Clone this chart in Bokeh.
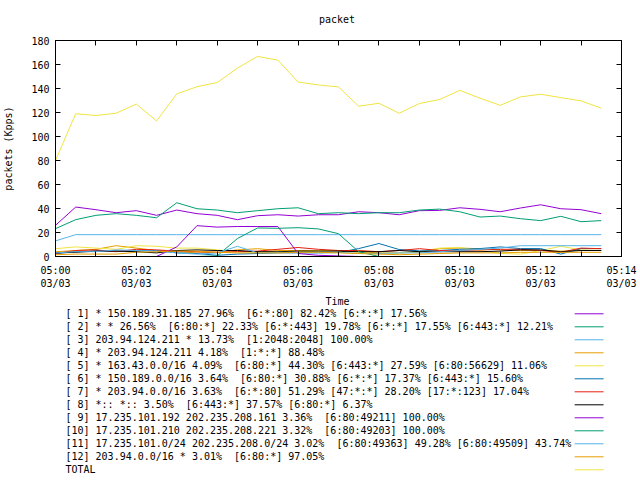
from bokeh.plotting import figure
from bokeh.models import Range1d, FixedTicker, LinearAxis, ColumnDataSource
from bokeh.layouts import column
from bokeh.embed import file_html
from bokeh.resources import INLINE
from bokeh.core.properties import value

# ---------------- data ----------------
times = ["05:00:00", "05:00:30", "05:01:00", "05:01:30", "05:02:00", "05:02:30",
         "05:03:00", "05:03:30", "05:04:00", "05:04:30", "05:05:00", "05:05:30",
         "05:06:00", "05:06:30", "05:07:00", "05:07:30", "05:08:00", "05:08:30",
         "05:09:00", "05:09:30", "05:10:00", "05:10:30", "05:11:00", "05:11:30",
         "05:12:00", "05:12:30", "05:13:00", "05:13:30"]

s1 = [26, 41.2, 39, 36.5, 38.2, 34.3, 38.7, 35.7, 34.3, 30.7, 34, 34.8, 33.7, 34.8,
      34.8, 37.3, 36.5, 34.8, 38.2, 38.4, 40.6, 39.3, 37.3, 40.4, 43.1, 39.8, 39, 35.7]
s2 = [23.2, 30.7, 34.3, 35.7, 34.3, 32.3, 44.8, 39.8, 38.7, 36.5, 38.2, 39.8, 40.6, 35.7,
      36.5, 35.7, 36.5, 36.5, 38.7, 39.5, 37.3, 32.9, 33.7, 31.5, 29.9, 33.5, 29, 29.9]
s3 = [13, 18.2, 18.2, 18.2, 18.2, 18.2, 18.2, 18.2, 18.2, 18.2, 18.2, 18.2, 18.2, 18.2,
      18.2, 18.2, 18.2, 18.2, 18.2, 18.2, 18.2, 18.2, 18.2, 18.2, 18.2, 18.2, 18.2, 18.2]
s4 = [4, 5, 6, 9, 7, 5, 4, 3, 3.5, 5.5, 6.5, 5, 5, 5,
      5, 4, 3, 3, 3.5, 6.5, 7, 6.5, 5.5, 5, 5, 4.5, 5, 5]
s5 = [6.5, 8, 7, 6, 9, 8.5, 7, 7, 5.5, 4, 4, 4, 4, 4.5,
      4.5, 3.5, 2.5, 3, 4, 7, 7.5, 5, 2.5, 2, 5, 8.5, 5.5, 5]
s6 = [2.5, 4, 4.5, 4.5, 5, 5, 3, 2.5, 1, 2, 2.5, 3, 3, 3,
      3.3, 6.6, 10.8, 5.8, 4.7, 5, 6, 6.6, 8, 6.6, 6.6, 2, 6.6, 6.6]
s7 = [2.5, 5, 5.5, 4, 6, 5.5, 4.5, 4, 3.5, 4, 4.5, 6, 7.5, 6,
      5, 5, 4, 5, 6.5, 5, 5, 5.5, 6, 6, 5, 3.5, 7, 6.5]
s8 = [3, 3.5, 4.5, 4.5, 4, 3, 5, 5.5, 5, 5, 4, 4, 4.5, 4.5,
      4.5, 4, 4, 5, 4, 4, 4, 4, 4.5, 5.5, 5.5, 4, 5, 5]
s9 = [0, 0, 0, 0, 0, 0, 8, 25.7, 24.5, 25, 25, 25, 2.5, 1,
      0.5, 0, 0, 0, 0, 0, 0, 0, 0, 0, 0, 0, 0, 0]
s10 = [0, 0, 0, 0, 0, 0, 0, 0, 0.5, 15, 23.8, 23.5, 24, 23,
       19, 4, 0, 0, 0, 0, 0, 0, 0, 0, 0, 0, 0, 0]
s11 = [3, 4, 4, 5.5, 5, 4.5, 3, 2, 3, 8.5, 3, 3.5, 3.5, 3.5,
       3.5, 2.5, 2.5, 3, 3, 4, 5, 6, 7, 9, 9, 9, 9, 9]
s12 = [1.5, 2, 2, 2, 3.5, 4, 4.5, 4.5, 3.5, 3, 3, 3, 3.5, 3.5,
       3, 2.5, 2, 1.5, 2, 2.5, 3, 3, 3, 3.5, 3.5, 3.5, 3.5, 3.5]
total = [80, 119, 117.5, 119.4, 127, 113, 135.5, 141.5, 145, 157, 166.7, 163.7, 145.4, 143,
         141.3, 125.2, 127.7, 119.4, 127.5, 130.8, 138.5, 131.9, 126, 133, 135.2, 132.4, 129.7, 123.6]

series = [s1, s2, s3, s4, s5, s6, s7, s8, s9, s10, s11, s12, total]

NB = "\u00a0"  # keeps gnuplot's double spaces visible in SVG text
legend_labels = [
    "[ 1] * 150.189.31.185 27.96%" + NB + " [6:*:80] 82.42% [6:*:*] 17.56%",
    "[ 2] * * 26.56%" + NB + " [6:80:*] 22.33% [6:*:443] 19.78% [6:*:*] 17.55% [6:443:*] 12.21%",
    "[ 3] 203.94.124.211 * 13.73%" + NB + " [1:2048:2048] 100.00%",
    "[ 4] * 203.94.124.211 4.18%" + NB + " [1:*:*] 88.48%",
    "[ 5] * 163.43.0.0/16 4.09%" + NB + " [6:80:*] 44.30% [6:443:*] 27.59% [6:80:56629] 11.06%",
    "[ 6] * 150.189.0.0/16 3.64%" + NB + " [6:80:*] 30.88% [6:*:*] 17.37% [6:443:*] 15.60%",
    "[ 7] * 203.94.0.0/16 3.63%" + NB + " [6:*:80] 51.29% [47:*:*] 28.20% [17:*:123] 17.04%",
    "[ 8] *:: *:: 3.50%" + NB + " [6:443:*] 37.57% [6:80:*] 6.37%",
    "[ 9] 17.235.101.192 202.235.208.161 3.36%" + NB + " [6:80:49211] 100.00%",
    "[10] 17.235.101.210 202.235.208.221 3.32%" + NB + " [6:80:49203] 100.00%",
    "[11] 17.235.101.0/24 202.235.208.0/24 3.02%" + NB + " [6:80:49363] 49.28% [6:80:49509] 43.74%",
    "[12] 203.94.0.0/16 * 3.01%" + NB + " [6:80:*] 97.05%",
    "TOTAL",
]

x_ticks = [0, 1, 2, 3, 4, 5, 6, 7, 8, 9, 10, 11, 12, 13, 14]
x_tick_labels = ["05:00\n03/03", "", "05:02\n03/03", "", "05:04\n03/03", "",
                 "05:06\n03/03", "", "05:08\n03/03", "", "05:10\n03/03", "",
                 "05:12\n03/03", "", "05:14\n03/03"]
y_ticks = [0, 20, 40, 60, 80, 100, 120, 140, 160, 180]
title_text = "packet"
x_label = "Time"
y_label = "packets (Kpps)"

palette = ["#9400d3", "#009e73", "#56b4e9", "#e69f00", "#f0e442", "#0072b2",
           "#e51e10", "#000000"]

FONT = "DejaVu Sans Mono"
FS = "10px"

# ---------------- layout constants (page pixels) ----------------
W = 640
H0 = 30            # title strip
H1 = 264           # plot (page 30..294)
H2 = 480 - H0 - H1  # x label + key
FL, FR, FT, FB = 53, 621, 40, 256


def to_minutes(t):
    h, m, s = (int(v) for v in t.split(":"))
    return (h - 5) * 60 + m + s / 60.0


xs = [to_minutes(t) for t in times]


def strip(height, y0):
    f = figure(width=W, height=height, x_range=Range1d(FL, FR),
               y_range=Range1d(y0 + height, y0),
               output_backend="svg", toolbar_location=None, x_axis_type=None,
               y_axis_type=None, min_border_left=FL, min_border_right=W - FR,
               min_border_top=0, min_border_bottom=0)
    f.xgrid.visible = False
    f.ygrid.visible = False
    f.outline_line_color = None
    return f


# ---------------- title strip ----------------
p0 = strip(H0, 0)
p0.text(x=[335.5], y=[19], text=[title_text], text_font=value(FONT), text_font_size=FS,
        text_align="center", text_baseline="middle", text_color="black")

# ---------------- main plot ----------------
p1 = figure(width=W, height=H1, x_range=Range1d(0, 14), y_range=Range1d(0, 180),
            output_backend="svg", toolbar_location=None,
            min_border_left=FL, min_border_right=W - FR, min_border_top=FT - H0,
            min_border_bottom=H0 + H1 - FB)
p1.xgrid.visible = False
p1.ygrid.visible = False
p1.outline_line_color = "black"
p1.outline_line_width = 1
p1.background_fill_color = "white"
p1.border_fill_color = "white"

for ax in (p1.xaxis[0], p1.yaxis[0]):
    ax.major_tick_in = 5
    ax.major_tick_out = 0
    ax.minor_tick_line_color = None
    ax.axis_line_color = "black"
    ax.major_tick_line_color = "black"
    ax.major_label_text_font = FONT
    ax.major_label_text_font_size = FS
    ax.major_label_text_color = "black"
    ax.axis_label_text_font = FONT
    ax.axis_label_text_font_size = FS
    ax.axis_label_text_font_style = "normal"
    ax.axis_label_text_color = "black"

p1.xaxis[0].ticker = FixedTicker(ticks=x_ticks)
p1.xaxis[0].major_label_overrides = {t: lab for t, lab in zip(x_ticks, x_tick_labels)}
p1.xaxis[0].major_label_standoff = 8

p1.yaxis[0].ticker = FixedTicker(ticks=y_ticks)
p1.yaxis[0].major_label_standoff = 6
p1.yaxis[0].axis_label = y_label
p1.yaxis[0].axis_label_standoff = 14

# mirrored ticks on top and right (no labels)
top_ax = LinearAxis(ticker=FixedTicker(ticks=x_ticks), major_tick_in=5, major_tick_out=0,
                    minor_tick_line_color=None, major_label_standoff=0,
                    major_label_overrides={t: "" for t in x_ticks}, axis_line_color="black")
right_ax = LinearAxis(ticker=FixedTicker(ticks=y_ticks), major_tick_in=5, major_tick_out=0,
                      minor_tick_line_color=None, major_label_standoff=0,
                      major_label_overrides={t: "" for t in y_ticks}, axis_line_color="black")
p1.add_layout(top_ax, "above")
p1.add_layout(right_ax, "right")

for i, ys in enumerate(series):
    p1.line(xs, ys, line_color=palette[i % len(palette)], line_width=1)

# ---------------- x label + key ----------------
p2 = strip(H2, H0 + H1)
p2.text(x=[(FL + FR) / 2 - 1], y=[301], text=[x_label], text_font=value(FONT),
        text_font_size=FS, text_align="center", text_baseline="middle", text_color="black")

row0 = 313.3
row_h = 13
rows = [row0 + i * row_h for i in range(len(legend_labels))]
colors = [palette[i % len(palette)] for i in range(len(legend_labels))]
src = ColumnDataSource(dict(x=[63] * len(rows), y=rows, text=legend_labels,
                            x0=[574] * len(rows), x1=[603] * len(rows), color=colors))
p2.text(x="x", y="y", text="text", source=src, text_font=value(FONT), text_font_size=FS,
        text_align="left", text_baseline="middle", text_color="black")
p2.segment(x0="x0", y0="y", x1="x1", y1="y", source=src, line_color="color", line_width=1)

layout = column(p0, p1, p2, spacing=0)
open("out.html", "w").write(file_html(layout, INLINE))
